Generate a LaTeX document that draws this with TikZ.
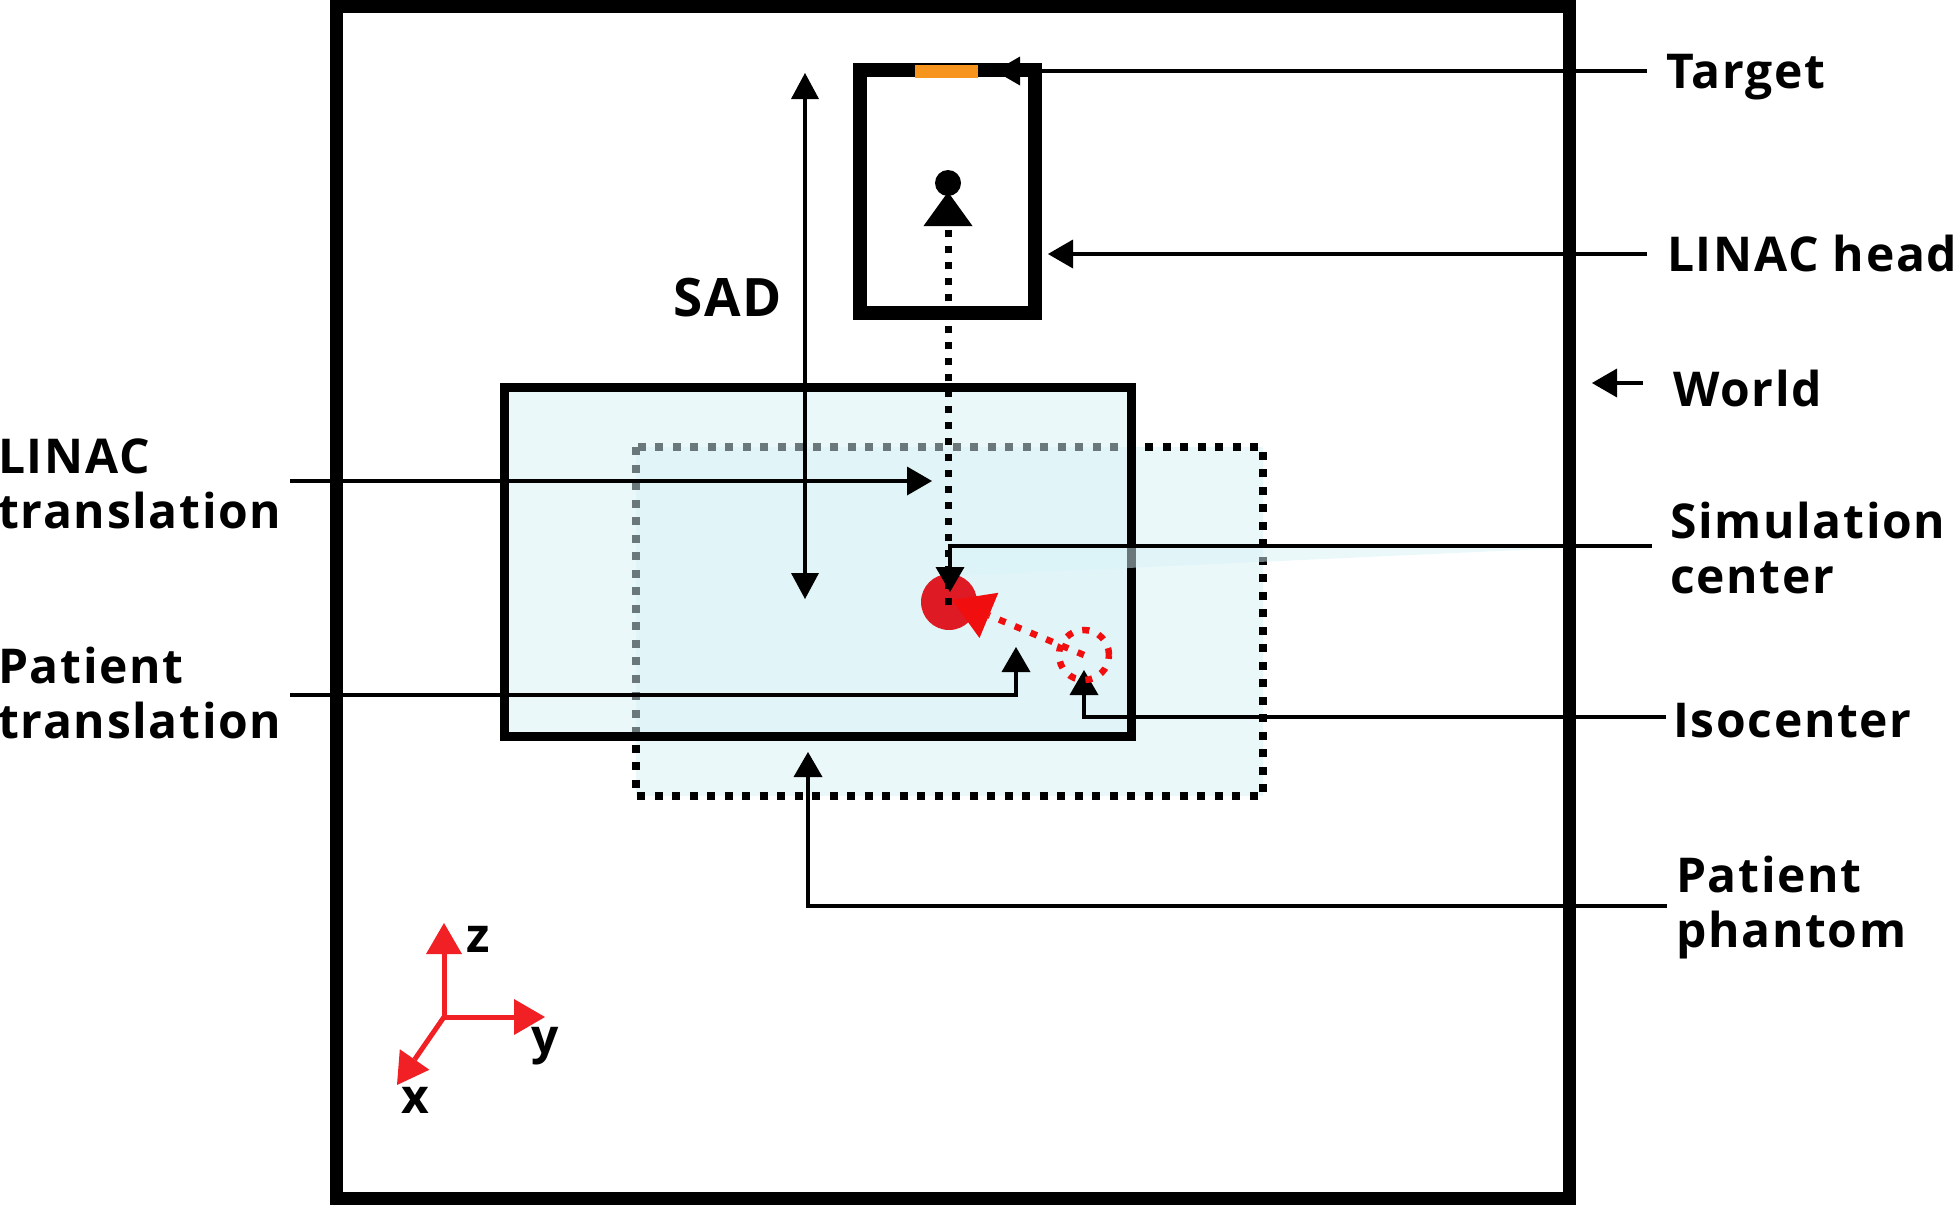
\documentclass[tikz,border=0pt]{standalone}
\usepackage{fontspec}
\setmainfont{Open Sans}[LetterSpace=3.5]
\usetikzlibrary{arrows.meta}
\definecolor{cyanfill}{RGB}{215,241,246}
\definecolor{tgtorange}{RGB}{247,148,30}
\definecolor{simred}{RGB}{222,26,36}
\definecolor{isored}{RGB}{240,14,14}
\definecolor{axred}{RGB}{240,32,36}
\begin{document}
\begin{tikzpicture}[x=1pt,y=-1pt,
  lbl/.style={anchor=base west, inner sep=0pt, font=\fontsize{48}{55}\selectfont\bfseries},
  conn/.style={line width=4pt, -{Triangle[length=25pt,width=29pt,line width=0pt]}},
  boxfill/.style={fill=cyanfill, fill opacity=0.5},
  blackdots/.style={line width=8pt, dash pattern=on 8pt off 9.5pt},
  axis/.style={axred, line width=5pt, -{Triangle[length=31pt,width=36pt,line width=0pt]}},
]
\useasboundingbox (0,0) rectangle (1960,1205);

% key points
\coordinate (simc) at (949,602);
\coordinate (iso) at (1084,655);
\coordinate (src) at (948,183);

% World box
\draw[line width=13pt] (336.5,6.5) rectangle (1569.5,1198.5);

% Patient phantom (dotted)
\path[boxfill] (636,447) rectangle (1263,796);
\draw[blackdots] (636,447) rectangle (1263,796);

% Patient box (solid)
\draw[boxfill, line width=9pt] (504,387) rectangle (1131,736);

% translucent wedge
\fill[cyanfill, fill opacity=0.5] (953,547) -- (1586,547) -- (953,576) -- cycle;

% LINAC head
\draw[line width=13.5pt] (860,70) rectangle (1035,313);
\fill[tgtorange] (915,65) rectangle (978,78);
\fill (src) circle[radius=13pt];

% connector end points
\coordinate (tR) at (1647,71);   \coordinate (tT) at (995,71);
\coordinate (lhR) at (1647,254); \coordinate (lhT) at (1048,254);
\coordinate (wR) at (1643,383);  \coordinate (wT) at (1592,383);
\coordinate (scR) at (1652,546); \coordinate (scT) at (950,592);
\coordinate (icR) at (1666,717); \coordinate (icT) at (1084,670);
\coordinate (ppR) at (1667,906); \coordinate (ppT) at (808,752);
\coordinate (ltL) at (290,481);  \coordinate (ltT) at (932,481);
\coordinate (ptL) at (290,695);  \coordinate (ptT) at (1016,647);
\coordinate (sadT) at (805,73);  \coordinate (sadB) at (805,599);
\coordinate (srcTip) at (948,192);
\coordinate (simcTip) at (952,600);
\coordinate (srcStart) at (948,605);

% SAD
\draw[line width=4pt, {Triangle[length=26pt,width=28pt,line width=0pt]}-{Triangle[length=26pt,width=28pt,line width=0pt]}] (sadT) -- (sadB);
\node[lbl, font=\fontsize{53}{60}\selectfont\bfseries] (sad) at (673,316) {SAD};

% connectors
\draw[conn] (tR) -- (tT);
\draw[conn] (lhR) -- (lhT);
\draw[conn] (wR) -- (wT);
\draw[conn] (ltL) -- (ltT);
\draw[conn] (ptL) -| (ptT);
\draw[conn] (icR) -| (icT);
\draw[conn] (ppR) -| (ppT);

% simulation center
\fill[simred] (simc) circle[radius=28pt];
\draw[conn] (scR) -| (scT);

% isocenter + red dotted arrow
\draw[isored, line width=6.5pt, dash pattern=on 7pt off 10pt] (iso) circle[radius=25pt];
\draw[isored, line width=6.5pt, dash pattern=on 7pt off 10pt, -{Triangle[length=40pt,width=49pt,line width=0pt]}] (iso) -- (simcTip);

% beam (dotted) from simulation center to source
\draw[line width=7pt, dash pattern=on 7pt off 9pt, -{Triangle[length=34pt,width=49pt,line width=0pt]}] (srcStart) -- (srcTip);

% labels
\node[lbl] (ltgt) at (1666,88) {Target};
\node[lbl] (llh) at (1667,271) {LINAC head};
\node[lbl] (lw) at (1673,406) {World};
\node[lbl] (lsc) at (1670,538) {\vtop{\baselineskip=55pt\hbox{Simulation}\hbox{center}}};
\node[lbl] (lic) at (1673,737) {Isocenter};
\node[lbl] (lpp) at (1676,892) {\vtop{\baselineskip=55pt\hbox{Patient}\hbox{phantom}}};
\node[lbl] (llt) at (-2,473) {\vtop{\baselineskip=55pt\hbox{LINAC}\hbox{translation}}};
\node[lbl] (lpt) at (-2,683) {\vtop{\baselineskip=55pt\hbox{Patient}\hbox{translation}}};

% axes
\coordinate (ax0) at (444,1017);
\coordinate (axz) at (444,923);
\coordinate (axy) at (545,1017);
\coordinate (axx) at (397,1085);
\draw[axis] (ax0) -- (axz);
\draw[axis] (ax0) -- (axy);
\draw[axis] (ax0) -- (axx);
\node[lbl] (lz) at (466,952) {z};
\node[lbl] (ly) at (531,1053) {y};
\node[lbl] (lx) at (401,1113) {x};
\end{tikzpicture}
\end{document}
